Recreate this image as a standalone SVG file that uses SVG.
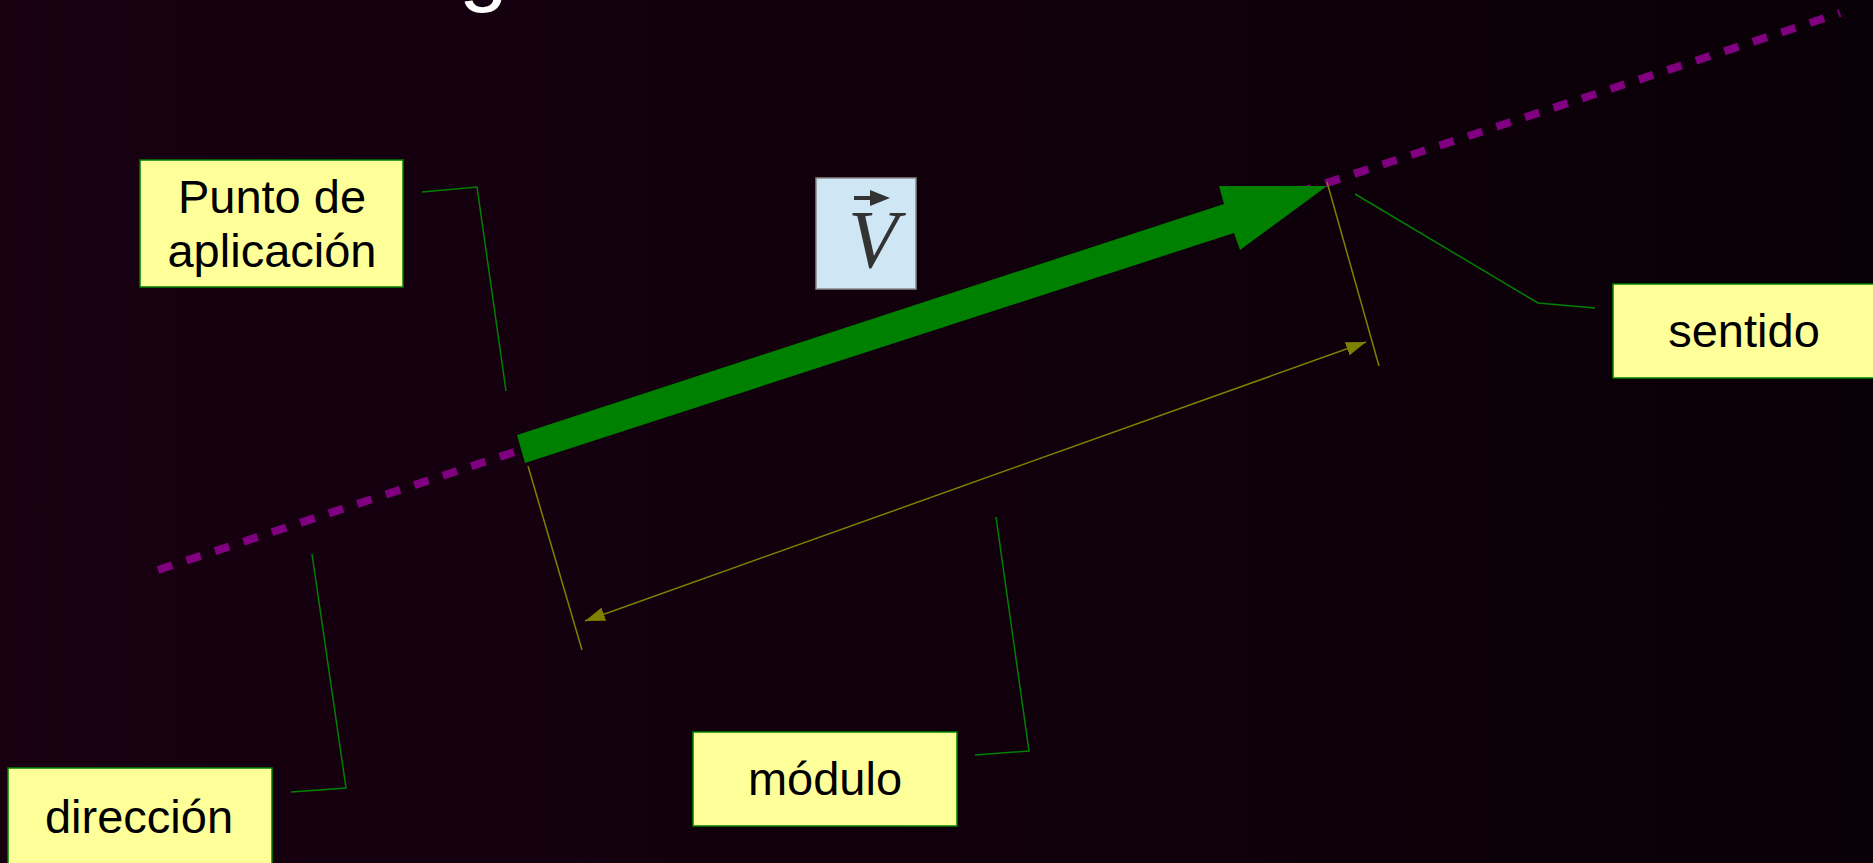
<svg xmlns="http://www.w3.org/2000/svg" width="1873" height="863" viewBox="0 0 1873 863">
<defs>
<linearGradient id="bg" x1="0" y1="0" x2="1" y2="0">
<stop offset="0" stop-color="#180011"/>
<stop offset="1" stop-color="#0a0007"/>
</linearGradient>
<marker id="oa" viewBox="0 0 20 14" refX="20" refY="7" markerWidth="20" markerHeight="14" markerUnits="userSpaceOnUse" orient="auto-start-reverse">
<path d="M0,0 L20,7 L0,14 Z" fill="#808000"/>
</marker>
<style>
.box{fill:#ffff99;stroke:#008000;stroke-width:1.5}
.lbl{font-family:"Liberation Sans",Arial,sans-serif;font-size:47px;fill:#000;text-anchor:middle}
.lead{fill:none;stroke:#008000;stroke-width:1.5}
.ext{fill:none;stroke:#808000;stroke-width:1.5}
</style>
</defs>
<rect width="1873" height="863" fill="url(#bg)"/>
<text x="459" y="-5" font-family="Liberation Sans, Arial, sans-serif" font-size="88" fill="#ffffff">g</text>

<g id="direction-line">
<line x1="158" y1="570" x2="1840" y2="13" stroke="#800080" stroke-width="8" stroke-dasharray="15 15"/>
</g>

<g id="vector-arrow">
<polygon points="517,435 1224,204 1219,186 1327,186 1240,250 1234,233 525,463" fill="#008000"/>
</g>

<g id="connectors">
<line class="ext" x1="528" y1="466" x2="582" y2="650"/>
<line class="ext" x1="1327" y1="182" x2="1379" y2="366"/>
<line class="ext" x1="585" y1="621" x2="1366" y2="342" marker-start="url(#oa)" marker-end="url(#oa)"/>
<polyline class="lead" points="422,192 477,187 506,391"/>
<polyline class="lead" points="1355,194 1538,303 1595,308"/>
<polyline class="lead" points="312,554 346,788 291,792"/>
<polyline class="lead" points="996,517 1029,751 975,755"/>
</g>

<g id="node-punto">
<rect class="box" x="140" y="160" width="263" height="127"/>
<text class="lbl" x="272" y="213">Punto de</text>
<text class="lbl" x="272" y="267">aplicación</text>
</g>

<g id="node-v">
<rect x="816" y="178" width="100" height="111" fill="#cfe6f5" stroke="#888888" stroke-width="1.5"/>
<text x="873" y="267" font-family="Liberation Serif, 'Times New Roman', serif" font-style="italic" font-size="82" fill="#333333" text-anchor="middle">V</text>
<line x1="854" y1="198" x2="878" y2="198" stroke="#333333" stroke-width="4"/>
<path d="M870,190 L890,198 L870,206 Z" fill="#333333"/>
</g>

<g id="node-sentido">
<rect class="box" x="1613" y="284" width="263" height="94"/>
<text class="lbl" x="1744" y="347">sentido</text>
</g>

<g id="node-direccion">
<rect class="box" x="8" y="768" width="264" height="100"/>
<text class="lbl" x="139" y="833">dirección</text>
</g>

<g id="node-modulo">
<rect class="box" x="693" y="732" width="264" height="94"/>
<text class="lbl" x="825" y="795">módulo</text>
</g>
</svg>
